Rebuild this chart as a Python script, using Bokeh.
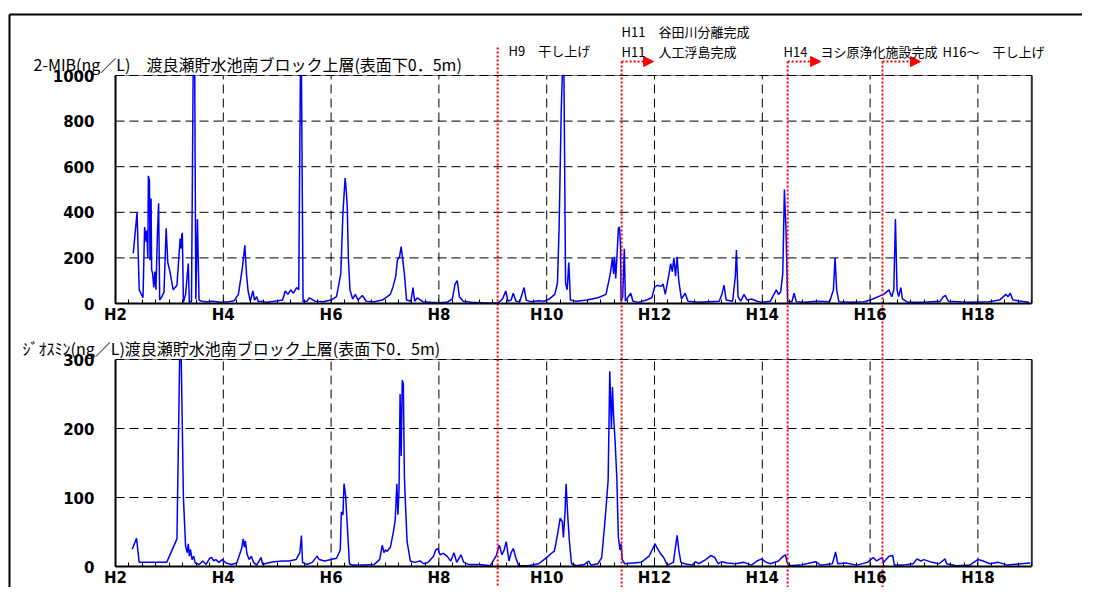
import numpy as np
from bokeh.plotting import figure
from bokeh.models import Range1d, LinearAxis, FixedTicker, Label, Arrow, NormalHead
from bokeh.embed import file_html
from bokeh.resources import INLINE

# ---------------- data ----------------
mib_year = [2.33, 2.40, 2.44, 2.47, 2.51, 2.54, 2.57, 2.58, 2.60, 2.61, 2.63, 2.64, 2.66, 2.67, 2.69,
            2.71, 2.73, 2.75, 2.78, 2.80, 2.82, 2.86, 2.90, 2.94, 2.97, 3.01, 3.07, 3.14, 3.20, 3.22,
            3.23, 3.24, 3.26, 3.30, 3.35, 3.37, 3.41, 3.44, 3.47, 3.49, 3.52, 3.55, 3.60, 3.70, 3.80,
            3.95, 4.10, 4.20, 4.28, 4.35, 4.40, 4.43, 4.46, 4.50, 4.55, 4.58, 4.62, 4.65, 4.72, 4.80,
            4.95, 5.10, 5.15, 5.20, 5.25, 5.30, 5.36, 5.40, 5.43, 5.45, 5.48, 5.55, 5.60, 5.70, 5.85,
            6.00, 6.10, 6.18, 6.22, 6.26, 6.28, 6.30, 6.32, 6.35, 6.40, 6.45, 6.50, 6.58, 6.65, 6.80,
            6.95, 7.10, 7.15, 7.20, 7.23, 7.27, 7.30, 7.33, 7.36, 7.40, 7.48, 7.52, 7.55, 7.60, 7.70,
            7.85, 8.00, 8.15, 8.25, 8.30, 8.34, 8.38, 8.45, 8.60, 8.80, 9.00, 9.10, 9.18, 9.24, 9.28,
            9.34, 9.38, 9.43, 9.50, 9.58, 9.62, 9.70, 9.85, 9.95, 10.05, 10.15, 10.20, 10.23, 10.27, 10.29,
            10.32, 10.35, 10.38, 10.41, 10.44, 10.55, 10.75, 10.95, 11.10, 11.18, 11.22, 11.24, 11.26, 11.28, 11.30,
            11.33, 11.35, 11.37, 11.38, 11.41, 11.44, 11.46, 11.50, 11.56, 11.60, 11.70, 11.85, 11.95, 12.00, 12.05,
            12.12, 12.16, 12.20, 12.27, 12.30, 12.33, 12.36, 12.39, 12.42, 12.45, 12.50, 12.57, 12.62, 12.80, 13.00,
            13.20, 13.25, 13.29, 13.33, 13.45, 13.50, 13.52, 13.55, 13.60, 13.66, 13.72, 13.80, 13.90, 14.00, 14.15,
            14.26, 14.30, 14.34, 14.38, 14.41, 14.44, 14.47, 14.55, 14.59, 14.63, 14.80, 15.00, 15.25, 15.32, 15.35,
            15.38, 15.42, 15.60, 15.90, 16.05, 16.15, 16.25, 16.35, 16.40, 16.44, 16.47, 16.50, 16.53, 16.57, 16.60,
            16.70, 17.00, 17.30, 17.36, 17.40, 17.45, 17.80, 18.20, 18.40, 18.52, 18.56, 18.60, 18.65, 18.80, 18.95]
mib_value = [220, 400, 60, 45, 25, 335, 270, 320, 200, 560, 540, 190, 460, 150, 130,
             70, 140, 60, 320, 440, 15, 30, 50, 330, 180, 140, 60, 80, 285, 240,
             300, 310, 5, 40, 175, 5, 10, 1000, 1000, 20, 370, 15, 10, 8, 10,
             5, 8, 12, 40, 150, 255, 130, 55, 10, 55, 15, 30, 8, 10, 5,
             10, 15, 55, 40, 60, 45, 70, 60, 1000, 1000, 8, 10, 25, 10, 8,
             15, 30, 130, 400, 550, 500, 420, 200, 60, 20, 40, 15, 35, 10, 8,
             15, 40, 75, 120, 190, 205, 250, 190, 130, 15, 10, 70, 10, 25, 8,
             5, 3, 5, 20, 85, 100, 30, 10, 5, 3, 2, 2, 20, 55, 10,
             15, 45, 10, 8, 70, 15, 8, 12, 10, 20, 40, 90, 330, 850, 1000,
             1000, 90, 60, 180, 15, 10, 15, 25, 40, 130, 200, 130, 205, 110, 190,
             330, 335, 250, 10, 30, 240, 10, 25, 45, 10, 5, 15, 25, 70, 80,
             75, 85, 40, 130, 175, 140, 200, 120, 205, 100, 20, 45, 10, 5, 8,
             10, 40, 80, 15, 10, 120, 235, 30, 10, 40, 15, 20, 10, 5, 10,
             60, 40, 50, 130, 500, 320, 10, 8, 45, 8, 5, 10, 8, 60, 200,
             60, 8, 5, 8, 20, 30, 40, 60, 30, 60, 370, 60, 30, 70, 20,
             5, 5, 10, 30, 35, 10, 5, 8, 15, 40, 30, 45, 15, 10, 5]

geo_year = [2.31, 2.39, 2.44, 2.95, 3.14, 3.19, 3.22, 3.26, 3.30, 3.33, 3.35, 3.37, 3.39, 3.42, 3.45,
            3.48, 3.55, 3.62, 3.68, 3.75, 3.79, 3.82, 3.86, 3.92, 3.98, 4.05, 4.15, 4.25, 4.34, 4.37,
            4.39, 4.41, 4.44, 4.48, 4.52, 4.56, 4.62, 4.70, 4.73, 4.82, 4.95, 5.09, 5.22, 5.35, 5.42,
            5.45, 5.47, 5.55, 5.65, 5.74, 5.78, 5.88, 6.00, 6.10, 6.17, 6.19, 6.22, 6.24, 6.27, 6.30,
            6.34, 6.40, 6.60, 6.80, 6.90, 6.95, 6.98, 7.01, 7.04, 7.10, 7.16, 7.19, 7.22, 7.24, 7.26,
            7.28, 7.30, 7.32, 7.34, 7.36, 7.38, 7.41, 7.47, 7.55, 7.65, 7.72, 7.80, 7.90, 7.94, 7.98,
            8.02, 8.08, 8.15, 8.22, 8.28, 8.33, 8.41, 8.46, 8.55, 8.75, 8.95, 9.06, 9.12, 9.17, 9.21,
            9.25, 9.30, 9.34, 9.38, 9.43, 9.48, 9.65, 9.85, 9.95, 10.03, 10.10, 10.14, 10.17, 10.21, 10.25,
            10.29, 10.31, 10.34, 10.36, 10.39, 10.42, 10.46, 10.55, 10.70, 10.78, 10.82, 10.95, 11.02, 11.07, 11.10,
            11.14, 11.17, 11.20, 11.22, 11.24, 11.27, 11.30, 11.33, 11.36, 11.38, 11.40, 11.45, 11.60, 11.75, 11.90,
            12.01, 12.04, 12.07, 12.10, 12.17, 12.24, 12.35, 12.42, 12.45, 12.49, 12.56, 12.70, 12.76, 12.82, 12.95,
            13.05, 13.12, 13.18, 13.25, 13.35, 13.50, 13.66, 13.80, 13.90, 13.99, 14.05, 14.15, 14.30, 14.39, 14.43,
            14.46, 14.50, 14.70, 14.99, 15.08, 15.30, 15.36, 15.40, 15.55, 15.75, 15.95, 16.06, 16.12, 16.22, 16.25,
            16.35, 16.42, 16.45, 16.60, 16.80, 16.87, 16.94, 17.00, 17.15, 17.28, 17.39, 17.42, 17.60, 17.85, 18.00,
            18.10, 18.22, 18.38, 18.55, 18.80, 18.97]
geo_value = [25, 41, 6, 6, 40, 300, 300, 100, 30, 20, 33, 15, 25, 10, 15,
             5, 3, 8, 3, 12, 13, 8, 10, 6, 10, 5, 3, 5, 26, 40,
             28, 37, 18, 10, 15, 6, 2, 13, 3, 5, 7, 8, 8, 10, 20,
             45, 6, 3, 6, 15, 10, 8, 10, 12, 24, 79, 75, 120, 102, 60,
             4, 2, 2, 3, 10, 31, 20, 24, 22, 28, 52, 68, 120, 75, 111,
             250, 160, 270, 265, 130, 90, 36, 8, 6, 8, 4, 6, 15, 24, 26,
             17, 19, 15, 8, 20, 6, 17, 6, 3, 3, 1, 15, 31, 17, 24,
             36, 8, 20, 26, 12, 1, 1, 4, 10, 15, 20, 22, 33, 51, 70,
             65, 42, 79, 120, 74, 38, 4, 1, 3, 8, 2, 4, 13, 56, 84,
             125, 283, 200, 260, 220, 180, 130, 42, 24, 33, 10, 4, 5, 6, 15,
             33, 28, 24, 20, 13, 2, 6, 45, 24, 6, 4, 2, 7, 4, 10,
             16, 13, 4, 7, 5, 4, 6, 2, 8, 11, 7, 4, 8, 15, 17,
             6, 1, 2, 7, 2, 4, 21, 4, 5, 2, 6, 13, 8, 13, 6,
             15, 16, 2, 2, 4, 11, 8, 10, 6, 4, 11, 4, 1, 2, 10,
             8, 4, 6, 2, 4, 5]

x_ticks = [2, 4, 6, 8, 10, 12, 14, 16, 18]
x_tick_labels = ["H2", "H4", "H6", "H8", "H10", "H12", "H14", "H16", "H18"]
x_end_year = 19
mib_ticks = [0, 200, 400, 600, 800, 1000]
geo_ticks = [0, 100, 200, 300]

mib_title = "2-MIB(ng／L)　渡良瀬貯水池南ブロック上層(表面下0．5m)"
geo_title = "ｼﾞｵｽﾐﾝ(ng／L)渡良瀬貯水池南ブロック上層(表面下0．5m)"

event_year = [9.09, 11.39, 14.47, 16.23]
event_has_arrow = [False, True, True, True]
event_arrow_px = [0, 32, 33, 38]
note_text = ["H9　干し上げ", "H11　谷田川分離完成", "H11　人工浮島完成", "H14　ヨシ原浄化施設完成", "H16～　干し上げ"]
note_px = [508, 621, 621, 783, 942]
note_py = [50, 31, 51, 51, 51]

# ---------------- layout (page pixels) ----------------
W, H = 1082, 587
PAGE = 0
X_H2 = 115.0
PPY = 53.9
Y0_TOP, PPU_TOP = 303.0, 228.0 / 1000
Y0_BOT, PPU_BOT = 566.0, 207.0 / 300


def px_to_year(px):
    return 2 + (px - X_H2) / PPY


def py_to_top(py):
    return (Y0_TOP - py) / PPU_TOP


def py_to_bot(py):
    return (Y0_BOT - py) / PPU_BOT


p = figure(width=W, height=H,
           x_range=Range1d(px_to_year(PAGE), px_to_year(PAGE + W)),
           y_range=Range1d(py_to_top(PAGE + H), py_to_top(PAGE)),
           x_axis_type=None, y_axis_type=None, title=None,
           output_backend="svg", toolbar_location=None, min_border=0)
p.extra_y_ranges = {"bot": Range1d(py_to_bot(PAGE + H), py_to_bot(PAGE))}
p.outline_line_color = None
p.background_fill_color = "white"
p.border_fill_color = "white"

# outer frame (top and left)
left_x = px_to_year(9)
top_y = py_to_top(14)
p.segment(x0=[left_x, left_x], y0=[top_y, top_y], x1=[left_x, px_to_year(PAGE + W)],
          y1=[py_to_top(PAGE + H), top_y], line_color="black", line_width=2)

minor = list(np.arange(2, x_end_year + 0.001, 0.25))

panels = [
    ("default", mib_ticks, mib_year, mib_value, mib_title, py_to_top(63), 33),
    ("bot", geo_ticks, geo_year, geo_value, geo_title, py_to_bot(347), 22),
]
for rn, yt, xs, ys, title, title_y, title_px in panels:
    ymax = yt[-1]
    p.segment(x0=[2], y0=[ymax], x1=[x_end_year], y1=[ymax], line_color="#808080", line_width=1, y_range_name=rn)
    vx = x_ticks[1:]
    p.segment(x0=vx, y0=[0] * len(vx), x1=vx, y1=[ymax] * len(vx),
              line_color="black", line_width=1, line_dash="9 5", y_range_name=rn)
    hy = yt[1:]
    p.segment(x0=[2] * len(hy), y0=hy, x1=[x_end_year] * len(hy), y1=hy,
              line_color="black", line_width=1, line_dash="9 5", y_range_name=rn)
    p.segment(x0=[x_end_year], y0=[0], x1=[x_end_year], y1=[ymax], line_color="#303030", line_width=2,
              y_range_name=rn)
    p.line(xs, ys, line_color="#0000ff", line_width=1.5, y_range_name=rn)

    xa = LinearAxis(fixed_location=0, y_range_name=rn,
                    ticker=FixedTicker(ticks=x_ticks, minor_ticks=minor),
                    bounds=(2, x_end_year),
                    major_label_overrides={t: l for t, l in zip(x_ticks, x_tick_labels)},
                    axis_line_width=2, axis_line_color="black",
                    major_tick_in=4, major_tick_out=0, minor_tick_in=4, minor_tick_out=0,
                    major_label_standoff=2,
                    major_label_text_font="DejaVu Sans", major_label_text_font_style="bold",
                    major_label_text_font_size="15px", major_label_text_color="black")
    p.add_layout(xa, "below")
    ya = LinearAxis(fixed_location=2, y_range_name=rn,
                    ticker=FixedTicker(ticks=yt, minor_ticks=[]),
                    bounds=(0, ymax),
                    axis_line_width=2, axis_line_color="black",
                    major_tick_in=0, major_tick_out=0, minor_tick_in=0, minor_tick_out=0,
                    major_label_standoff=21,
                    major_label_text_font="DejaVu Sans", major_label_text_font_style="bold",
                    major_label_text_font_size="15px", major_label_text_color="black")
    p.add_layout(ya, "left")

    p.add_layout(Label(x=px_to_year(title_px), y=title_y, y_range_name=rn, text=title,
                       text_font="Noto Sans CJK JP", text_font_size="16px",
                       text_baseline="middle", text_align="left", text_color="black"))

starts = [py_to_top(47) if not a else py_to_top(61) for a in event_has_arrow]
p.segment(x0=event_year, y0=starts, x1=event_year, y1=[py_to_top(PAGE + H)] * len(event_year),
          line_color="#ff0000", line_width=2, line_dash="2 2")
for ev, a, ln in zip(event_year, event_has_arrow, event_arrow_px):
    if a:
        p.add_layout(Arrow(x_start=ev, y_start=py_to_top(61), x_end=ev + ln / PPY, y_end=py_to_top(61),
                           line_color="#ff0000", line_width=2, line_dash="2 2",
                           end=NormalHead(size=10, fill_color="#ff0000", line_color="#ff0000")))

for t, px, py in zip(note_text, note_px, note_py):
    p.add_layout(Label(x=px_to_year(px), y=py_to_top(py), text=t,
                       text_font="Noto Sans CJK JP", text_font_size="13px",
                       text_baseline="middle", text_align="left", text_color="black"))

open("out.html", "w").write(file_html(p, INLINE))
